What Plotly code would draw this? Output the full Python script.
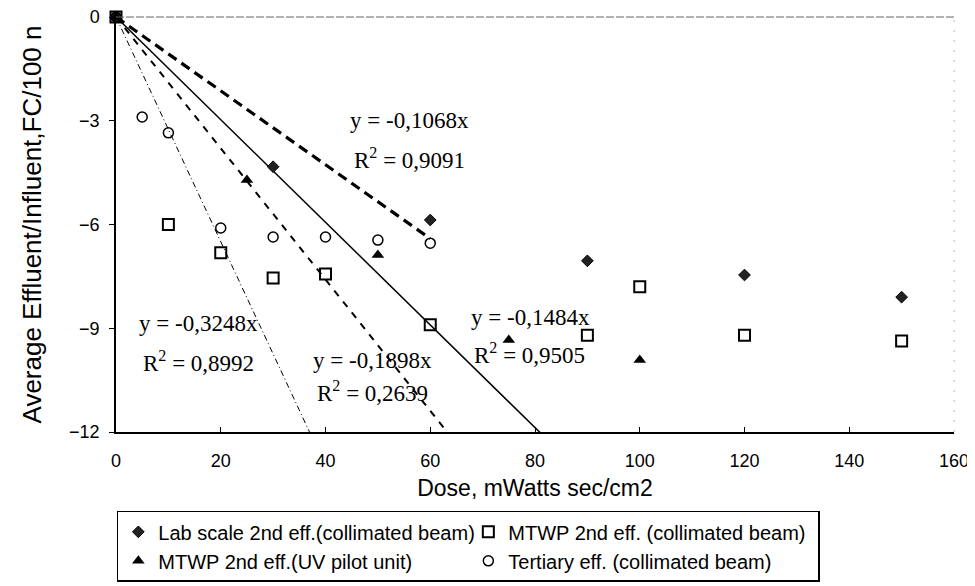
import plotly.graph_objects as go

# ---- data ----
lab_x = [0, 30, 60, 90, 120, 150]
lab_y = [0, -4.33, -5.87, -7.05, -7.46, -8.1]

mtwp_col_x = [0, 10, 20, 30, 40, 60, 90, 100, 120, 150]
mtwp_col_y = [0, -6.0, -6.82, -7.55, -7.43, -8.9, -9.2, -7.8, -9.2, -9.37]

mtwp_uv_x = [0, 25, 50, 75, 100]
mtwp_uv_y = [0, -4.71, -6.88, -9.34, -9.92]

tert_x = [0, 5, 10, 20, 30, 40, 50, 60]
tert_y = [0, -2.89, -3.35, -6.1, -6.36, -6.36, -6.45, -6.54]

series_names = ["Lab scale 2nd eff.(collimated beam)", "MTWP 2nd eff. (collimated beam)",
                "MTWP 2nd eff.(UV pilot unit)", "Tertiary eff. (collimated beam)"]

# trendlines (y = slope * x), fitted through origin
slopes = [-0.1068, -0.1898, -0.1484, -0.3248]
r2 = ["0,9091", "0,2639", "0,9505", "0,8992"]
slope_txt = ["-0,1068", "-0,1898", "-0,1484", "-0,3248"]
trend_xmax = [60, 150, 100, 60]

x_ticks = [0, 20, 40, 60, 80, 100, 120, 140, 160]
y_ticks = [0, -3, -6, -9, -12]

fig = go.Figure()

# trendlines
trend_styles = [
    dict(color="black", width=3.2, dash="10px,6px"),
    dict(color="black", width=2, dash="7px,7px"),
    dict(color="black", width=1.5, dash="solid"),
    dict(color="black", width=1, dash="6px,3px,1px,3px"),
]
for s, xm, st in zip(slopes, trend_xmax, trend_styles):
    fig.add_trace(go.Scatter(x=[0, xm], y=[0, s * xm], mode="lines", line=st,
                             showlegend=False, hoverinfo="skip"))

marker_styles = [
    dict(symbol="diamond", size=9, color="#222", line=dict(color="black", width=1)),
    dict(symbol="square-open", size=11, color="black", line=dict(width=2)),
    dict(symbol="triangle-up", size=11, color="black"),
    dict(symbol="circle-open", size=10, color="black", line=dict(width=1.5)),
]
for xs, ys, name, ms in zip([lab_x, mtwp_col_x, mtwp_uv_x, tert_x],
                            [lab_y, mtwp_col_y, mtwp_uv_y, tert_y],
                            series_names, marker_styles):
    fig.add_trace(go.Scatter(x=xs, y=ys, mode="markers", name=name, marker=ms,
                             cliponaxis=False))

# equation annotations (lab, mtwp collimated, mtwp uv, tertiary)
eq_xy = [(44.3, -2.98), (37.3, -9.92), (67.4, -8.7), (4.1, -8.85)]
r2_xy = [(45.1, -4.1), (37.9, -10.82), (68.0, -9.72), (4.8, -9.97)]
for i in range(4):
    fig.add_annotation(x=eq_xy[i][0], y=eq_xy[i][1], xanchor="left", yanchor="middle",
                       text=f"y = {slope_txt[i]}x", showarrow=False,
                       font=dict(family="Liberation Serif", size=23, color="black"))
    fig.add_annotation(x=r2_xy[i][0], y=r2_xy[i][1], xanchor="left", yanchor="middle",
                       text=f"R<sup>2</sup> = {r2[i]}", showarrow=False,
                       font=dict(family="Liberation Serif", size=23, color="black"))

# faint top/right border
fig.add_shape(type="line", xref="paper", yref="paper", x0=0, x1=1, y0=1, y1=1,
              line=dict(color="#666", width=1, dash="8px,2px"))
fig.add_shape(type="line", xref="paper", yref="paper", x0=1, x1=1, y0=0, y1=1,
              line=dict(color="#bbb", width=1, dash="2px,8px"))

fig.update_layout(
    width=967, height=578,
    margin=dict(l=108, r=21, t=9, b=154, autoexpand=False),
    plot_bgcolor="white", paper_bgcolor="white",
    font=dict(family="Arial", color="black"),
    xaxis=dict(range=[0, 160], tickvals=x_ticks, ticks="inside", ticklen=5,
               tickcolor="black", showline=True, linecolor="black", linewidth=1.5,
               showgrid=False, zeroline=False, tickfont=dict(size=18),
               ticklabelstandoff=12, ticklabeloverflow="allow",
               title=dict(text="Dose, mWatts sec/cm2", font=dict(size=23), standoff=10)),
    yaxis=dict(range=[-12, 0], tickvals=y_ticks, ticks="outside", ticklen=5,
               tickcolor="black", showline=True, linecolor="black", linewidth=1.5,
               showgrid=False, zeroline=False, tickfont=dict(size=18),
               ticklabelstandoff=6, ticklabeloverflow="allow",
               title=dict(text="Average Effluent/Influent,FC/100 n", font=dict(size=26),
                          standoff=20)),
    legend=dict(orientation="h", x=0.001, y=-0.19, xanchor="left", yanchor="top",
                bordercolor="black", borderwidth=1.5, entrywidth=305,
                entrywidthmode="pixels", font=dict(size=20), itemwidth=30,
                tracegroupgap=0),
)

fig.write_html("out.html")
